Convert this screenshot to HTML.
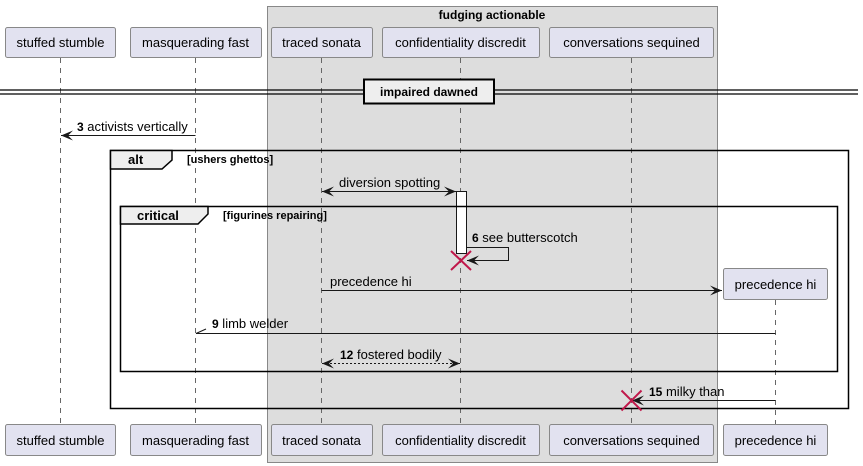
<!DOCTYPE html>
<html><head><meta charset="utf-8"><style>
html,body{margin:0;padding:0;background:#fff;}
svg{display:block;}
text{font-family:"Liberation Sans",sans-serif;font-size:13px;fill:#000;}
.b{font-weight:bold;}
.s{font-size:11px;font-weight:bold;}
</style></head><body>
<svg width="863" height="466" viewBox="0 0 863 466" xmlns="http://www.w3.org/2000/svg">
<defs>
<marker id="ah" viewBox="0 0 12 10" refX="12" refY="5" markerWidth="12" markerHeight="10" orient="auto-start-reverse" markerUnits="userSpaceOnUse">
<path d="M0,0 L12,5 L0,10 L5,5 Z" fill="#181818"/>
</marker>
</defs>
<rect x="267.5" y="6.5" width="450" height="456" fill="#DDDDDD" stroke="#888" stroke-width="1"/>
<text x="492" y="19" text-anchor="middle" class="b" style="font-size:12px">fudging actionable</text>

<g stroke="#666" stroke-dasharray="5,5" stroke-width="1">
<line x1="60.5" y1="58" x2="60.5" y2="424"/>
<line x1="195.5" y1="58" x2="195.5" y2="424"/>
<line x1="321.5" y1="58" x2="321.5" y2="424"/>
<line x1="460.5" y1="58" x2="460.5" y2="424"/>
<line x1="631.5" y1="58" x2="631.5" y2="424"/>
<line x1="775.5" y1="300" x2="775.5" y2="424"/>
</g>

<g fill="#E2E2F0" stroke="#888" stroke-width="1">
<rect x="5.5" y="27.5" width="110" height="30" rx="2"/>
<rect x="130.5" y="27.5" width="131" height="30" rx="2"/>
<rect x="271.5" y="27.5" width="101" height="30" rx="2"/>
<rect x="382.5" y="27.5" width="157" height="30" rx="2"/>
<rect x="549.5" y="27.5" width="164" height="30" rx="2"/>
<rect x="5.5" y="424.5" width="110" height="31" rx="2"/>
<rect x="130.5" y="424.5" width="131" height="31" rx="2"/>
<rect x="271.5" y="424.5" width="101" height="31" rx="2"/>
<rect x="382.5" y="424.5" width="157" height="31" rx="2"/>
<rect x="549.5" y="424.5" width="164" height="31" rx="2"/>
<rect x="723.5" y="424.5" width="104" height="31" rx="2"/>
<rect x="723.5" y="268.5" width="104" height="31" rx="2"/>
</g>
<g text-anchor="middle">
<text x="60.5" y="47">stuffed stumble</text>
<text x="195.5" y="47">masquerading fast</text>
<text x="321.5" y="47">traced sonata</text>
<text x="460.5" y="47">confidentiality discredit</text>
<text x="631.5" y="47">conversations sequined</text>
<text x="60.5" y="445">stuffed stumble</text>
<text x="195.5" y="445">masquerading fast</text>
<text x="321.5" y="445">traced sonata</text>
<text x="460.5" y="445">confidentiality discredit</text>
<text x="631.5" y="445">conversations sequined</text>
<text x="775.5" y="445">precedence hi</text>
<text x="775.5" y="289">precedence hi</text>
</g>

<line x1="0" y1="90" x2="858" y2="90" stroke="#000" stroke-width="1.2"/>
<line x1="0" y1="94" x2="858" y2="94" stroke="#000" stroke-width="1.2"/>
<rect x="364" y="79.5" width="130" height="24" fill="#EEEEEE" stroke="#000" stroke-width="2"/>
<text x="429" y="96" text-anchor="middle" class="b" style="font-size:12px">impaired dawned</text>

<line x1="195.5" y1="135.5" x2="61" y2="135.5" stroke="#181818" marker-end="url(#ah)"/>
<text x="77" y="131"><tspan class="b" style="font-size:12px">3</tspan> activists vertically</text>

<rect x="110.5" y="150.5" width="738" height="258" fill="none" stroke="#000" stroke-width="1.5"/>
<path d="M110.5,150.5 L172,150.5 L172,160 L162,169 L110.5,169 Z" fill="#EEEEEE" stroke="#000" stroke-width="1.5"/>
<text x="128" y="164" class="b">alt</text>
<text x="187" y="163" class="s">[ushers ghettos]</text>

<line x1="322" y1="191.5" x2="456" y2="191.5" stroke="#181818" marker-start="url(#ah)" marker-end="url(#ah)"/>
<text x="339" y="187">diversion spotting</text>
<rect x="456.5" y="191.5" width="10" height="62" fill="#fff" stroke="#181818"/>

<rect x="120.5" y="206.5" width="717" height="165" fill="none" stroke="#000" stroke-width="1.5"/>
<path d="M120.5,206.5 L208,206.5 L208,214 L198,224 L120.5,224 Z" fill="#EEEEEE" stroke="#000" stroke-width="1.5"/>
<text x="137" y="220" class="b">critical</text>
<text x="223" y="219" class="s">[figurines repairing]</text>

<polyline points="466.5,247.5 508.5,247.5 508.5,260.5 467,260.5" fill="none" stroke="#181818" marker-end="url(#ah)"/>
<text x="472" y="242"><tspan class="b" style="font-size:12px">6</tspan> see butterscotch</text>
<g stroke="#C0174A" stroke-width="2"><line x1="451" y1="251" x2="471" y2="270"/><line x1="471" y1="251" x2="451" y2="270"/></g>

<line x1="321.5" y1="290.5" x2="722" y2="290.5" stroke="#181818" marker-end="url(#ah)"/>
<text x="330" y="286">precedence hi</text>

<line x1="775.5" y1="333.5" x2="196" y2="333.5" stroke="#181818"/>
<line x1="196" y1="333.5" x2="206" y2="329" stroke="#181818"/>
<text x="212" y="328"><tspan class="b" style="font-size:12px">9</tspan> limb welder</text>

<line x1="322" y1="363.5" x2="460" y2="363.5" stroke="#181818" stroke-dasharray="2,2" marker-start="url(#ah)" marker-end="url(#ah)"/>
<text x="340" y="359"><tspan class="b" style="font-size:12px">12</tspan> fostered bodily</text>

<line x1="775.5" y1="400.5" x2="632" y2="400.5" stroke="#181818" marker-end="url(#ah)"/>
<text x="649" y="396"><tspan class="b" style="font-size:12px">15</tspan> milky than</text>
<g stroke="#C0174A" stroke-width="2"><line x1="621.5" y1="390.5" x2="641.5" y2="410.5"/><line x1="641.5" y1="390.5" x2="621.5" y2="410.5"/></g>
</svg>
</body></html>
